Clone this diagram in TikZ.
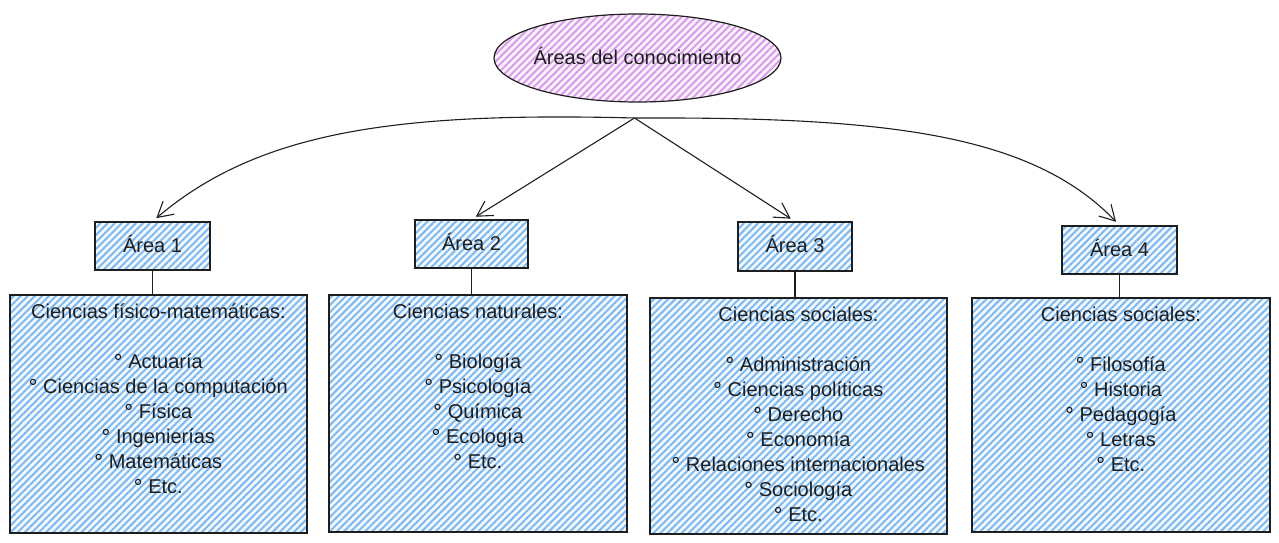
\documentclass[tikz,border=0pt]{standalone}
\usepackage{fontspec}
\setmainfont{Liberation Sans}
\usetikzlibrary{shapes.geometric,arrows.meta,patterns.meta,calc}
\definecolor{ink}{HTML}{1E1E1E}
\definecolor{bluefill}{HTML}{F4F9FE}
\definecolor{bluehatch}{HTML}{7DB9F1}
\definecolor{purpfill}{HTML}{FBF4FD}
\definecolor{purphatch}{HTML}{D99CEC}
\tikzset{
  hatchblue/.style={preaction={fill=bluefill},
    pattern={Lines[angle=45,distance=5pt,line width=2pt]}, pattern color=bluehatch},
  hatchpurp/.style={preaction={fill=purpfill},
    pattern={Lines[angle=45,distance=5pt,line width=2pt]}, pattern color=purphatch},
  sbox/.style={draw=ink, line width=1.2pt, rectangle, hatchblue, inner sep=0pt},
  bigbox/.style={draw=ink, line width=1.2pt, rectangle, hatchblue, inner sep=0pt},
  lbl/.style={font=\fontsize{20}{25}\selectfont, text=ink, anchor=base, inner sep=0pt},
  bulc/.style={draw=ink, line width=1.1pt},
  conn/.style={draw=ink, line width=1.1pt},
  arr/.style={draw=ink, line width=1.1pt, -{Straight Barb[length=15pt,width=17pt,line width=1.1pt]}, shorten >=5pt}
}
\newcommand{\itemlist}[2]{%
  \foreach \t [count=\i] in {#2} {
    \node[lbl] (#1-\i) at ($(#1.north)+(0,49.5+25*\i)$) {\hspace{14pt}\t};
    \draw[bulc] ($(#1-\i.base west)+(4,-12)$) circle (2.6);
  }}
\begin{document}
\begin{tikzpicture}[x=1pt,y=-1pt]
\useasboundingbox (0,0) rectangle (1279,543);

% top ellipse
\node[ellipse, draw=ink, line width=1.2pt, hatchpurp, minimum width=287pt, minimum height=88pt, inner sep=0pt] (E) at (637.5,58) {};
\node[lbl] (Et) at ($(E.center)+(0,6)$) {Áreas del conocimiento};
\coordinate (hub) at ($(E.south)+(-3,15)$);

% area boxes
\node[sbox, minimum width=115pt, minimum height=48pt] (a1) at (152.5,246) {};
\node[sbox, minimum width=113pt, minimum height=48pt] (a2) at (471.5,244) {};
\node[sbox, minimum width=114pt, minimum height=49pt] (a3) at (795,246.5) {};
\node[sbox, minimum width=115pt, minimum height=48pt] (a4) at (1119.5,250) {};
\node[lbl] (a1t) at ($(a1.center)+(0,6)$) {Área 1};
\node[lbl] (a2t) at ($(a2.center)+(0,6)$) {Área 2};
\node[lbl] (a3t) at ($(a3.center)+(0,6)$) {Área 3};
\node[lbl] (a4t) at ($(a4.center)+(0,6)$) {Área 4};

% big boxes
\node[bigbox, minimum width=297pt, minimum height=238pt] (B1) at (158.5,414) {};
\node[bigbox, minimum width=298pt, minimum height=237pt] (B2) at (478,413.5) {};
\node[bigbox, minimum width=297pt, minimum height=236pt] (B3) at (798.5,416) {};
\node[bigbox, minimum width=298pt, minimum height=234pt] (B4) at (1121,415) {};

% arrows
\draw[arr] (hub) .. controls (400,112) and (260,130) .. (a1.north);
\draw[arr] (hub) -- (a2.north);
\draw[arr] (hub) -- (a3.north);
\draw[arr] (hub) .. controls (880,117) and (1030,132) .. (a4.north);

% connectors
\draw[conn] (a1.south) -- (a1.south |- B1.north);
\draw[conn] (a2.south) -- (a2.south |- B2.north);
\draw[conn] (a3.south) -- (a3.south |- B3.north);
\draw[conn] (a4.south) -- (a4.south |- B4.north);

% box texts
\node[lbl] (h1) at ($(B1.north)+(0,24.5)$) {Ciencias físico-matemáticas:};
\itemlist{B1}{Actuaría, Ciencias de la computación, Física, Ingenierías, Matemáticas, Etc.}

\node[lbl] (h2) at ($(B2.north)+(0,24.5)$) {Ciencias naturales:};
\itemlist{B2}{Biología, Psicología, Química, Ecología, Etc.}

\node[lbl] (h3) at ($(B3.north)+(0,24.5)$) {Ciencias sociales:};
\itemlist{B3}{Administración, Ciencias políticas, Derecho, Economía, Relaciones internacionales, Sociología, Etc.}

\node[lbl] (h4) at ($(B4.north)+(0,24.5)$) {Ciencias sociales:};
\itemlist{B4}{Filosofía, Historia, Pedagogía, Letras, Etc.}
\end{tikzpicture}
\end{document}
